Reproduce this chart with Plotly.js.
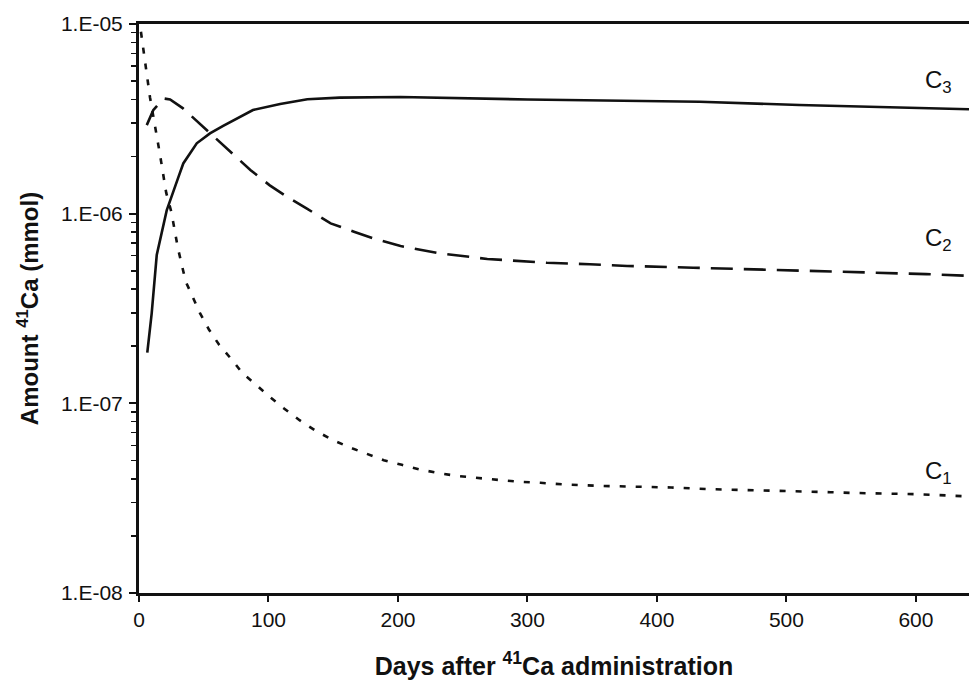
<!DOCTYPE html>
<html>
<head>
<meta charset="utf-8">
<script src="https://cdn.plot.ly/plotly-3.0.1.min.js"></script>
<style>html,body{margin:0;padding:0;background:#fff;overflow:hidden}</style>
</head>
<body>
<div id="chart" style="width:969px;height:680px"></div>
<script>
// C1 (short-dashed)
const c1Days = [1.5, 3.3, 8.5, 16, 21, 25, 30, 36, 41, 47, 54, 62, 72, 80, 90, 101, 112, 124, 137, 151, 165, 178, 189, 203, 217, 232, 245, 260, 276, 293, 310, 327, 357, 384, 411, 439, 466, 495, 534, 551, 600, 641];
const c1Vals = [9.1e-6, 7.3e-6, 4.1e-6, 2.09e-6, 1.29e-6, 1.02e-6, 6.6e-7, 4.4e-7, 3.7e-7, 3.0e-7, 2.45e-7, 2.03e-7, 1.69e-7, 1.44e-7, 1.26e-7, 1.08e-7, 9.4e-8, 8.15e-8, 7.13e-8, 6.34e-8, 5.78e-8, 5.33e-8, 5.01e-8, 4.74e-8, 4.48e-8, 4.28e-8, 4.15e-8, 4.05e-8, 3.94e-8, 3.86e-8, 3.81e-8, 3.74e-8, 3.67e-8, 3.65e-8, 3.60e-8, 3.53e-8, 3.50e-8, 3.47e-8, 3.40e-8, 3.37e-8, 3.32e-8, 3.23e-8];
// C2 (long-dashed)
const c2Days = [6, 11, 19, 24, 34, 55, 73, 86, 101, 114, 130, 148, 166, 181, 202, 232, 269, 315, 348, 377, 428, 477, 510, 549, 608, 641];
const c2Vals = [2.93e-6, 3.51e-6, 4.05e-6, 4.0e-6, 3.59e-6, 2.65e-6, 2.04e-6, 1.70e-6, 1.41e-6, 1.23e-6, 1.06e-6, 8.89e-7, 8.03e-7, 7.41e-7, 6.75e-7, 6.18e-7, 5.77e-7, 5.51e-7, 5.41e-7, 5.30e-7, 5.19e-7, 5.09e-7, 5.00e-7, 4.92e-7, 4.80e-7, 4.70e-7];
// C3 (solid)
const c3Days = [6.4, 9.8, 13.7, 17.5, 21.4, 30.3, 34.2, 44.6, 54.8, 65, 88, 109, 130, 155, 181, 202, 300, 433, 510, 562, 641];
const c3Vals = [1.85e-7, 2.98e-7, 6.05e-7, 7.87e-7, 1.04e-6, 1.55e-6, 1.84e-6, 2.35e-6, 2.65e-6, 2.90e-6, 3.52e-6, 3.79e-6, 4.01e-6, 4.09e-6, 4.12e-6, 4.12e-6, 4.0e-6, 3.89e-6, 3.74e-6, 3.66e-6, 3.55e-6];

const xTickVals = [0, 100, 200, 300, 400, 500, 600];
const yTickVals = [1e-8, 1e-7, 1e-6, 1e-5];
const yTickText = ["1.E-08", "1.E-07", "1.E-06", "1.E-05"];
const yMinorVals = [];
[1e-8, 1e-7, 1e-6].forEach(d => { for (let k = 2; k <= 9; k++) yMinorVals.push(d * k); });

const seriesNames = ["C<sub>1</sub>", "C<sub>2</sub>", "C<sub>3</sub>"];

const font = "Liberation Sans, Arial, Helvetica, sans-serif";
const lineCol = "#111";

const traces = [
  {x: c1Days, y: c1Vals, name: seriesNames[0], mode: "lines", line: {color: lineCol, width: 2.6, dash: "6px,10px"}},
  {x: c2Days, y: c2Vals, name: seriesNames[1], mode: "lines", line: {color: lineCol, width: 2.6, dash: "22px,11px"}},
  {x: c3Days, y: c3Vals, name: seriesNames[2], mode: "lines", line: {color: lineCol, width: 2.6}}
];

const layout = {
  width: 969, height: 680,
  margin: {l: 139, r: 0, t: 24, b: 87, pad: 0},
  paper_bgcolor: "#fff", plot_bgcolor: "#fff",
  showlegend: false,
  font: {family: font, color: "#111", size: 21},
  xaxis: {
    range: [0, 641], tickvals: xTickVals, ticks: "outside", ticklen: 6, tickwidth: 2, tickcolor: lineCol,
    showline: true, linewidth: 3, linecolor: lineCol, mirror: true, showgrid: false, zeroline: false,
    tickfont: {size: 21, family: font},
    title: {text: "Days after <sup>41</sup>Ca administration", font: {size: 25, family: font, weight: "bold"}, standoff: 28}
  },
  yaxis: {
    type: "log", range: [-8, -5], tickvals: yTickVals, ticktext: yTickText,
    ticks: "outside", ticklen: 7, tickwidth: 2, tickcolor: lineCol,
    minor: {tickmode: "array", tickvals: yMinorVals, ticks: "outside", ticklen: 5, tickwidth: 1.5, tickcolor: lineCol, showgrid: false},
    showline: true, linewidth: 3, linecolor: lineCol, showgrid: false, zeroline: false,
    tickfont: {size: 21, family: font}, ticklabelstandoff: 2,
    title: {text: "Amount <sup>41</sup>Ca (mmol)", font: {size: 24, family: font, weight: "bold"}, standoff: 16}
  },
  annotations: [
    {xref: "paper", yref: "paper", x: 0.9446, y: 0.8998, xanchor: "left", yanchor: "middle", text: seriesNames[2], showarrow: false, font: {size: 24, family: font, color: "#111"}},
    {xref: "paper", yref: "paper", x: 0.9446, y: 0.6204, xanchor: "left", yanchor: "middle", text: seriesNames[1], showarrow: false, font: {size: 24, family: font, color: "#111"}},
    {xref: "paper", yref: "paper", x: 0.9446, y: 0.2109, xanchor: "left", yanchor: "middle", text: seriesNames[0], showarrow: false, font: {size: 24, family: font, color: "#111"}}
  ]
};

Plotly.newPlot("chart", traces, layout, {displayModeBar: false, staticPlot: true});
</script>
</body>
</html>
